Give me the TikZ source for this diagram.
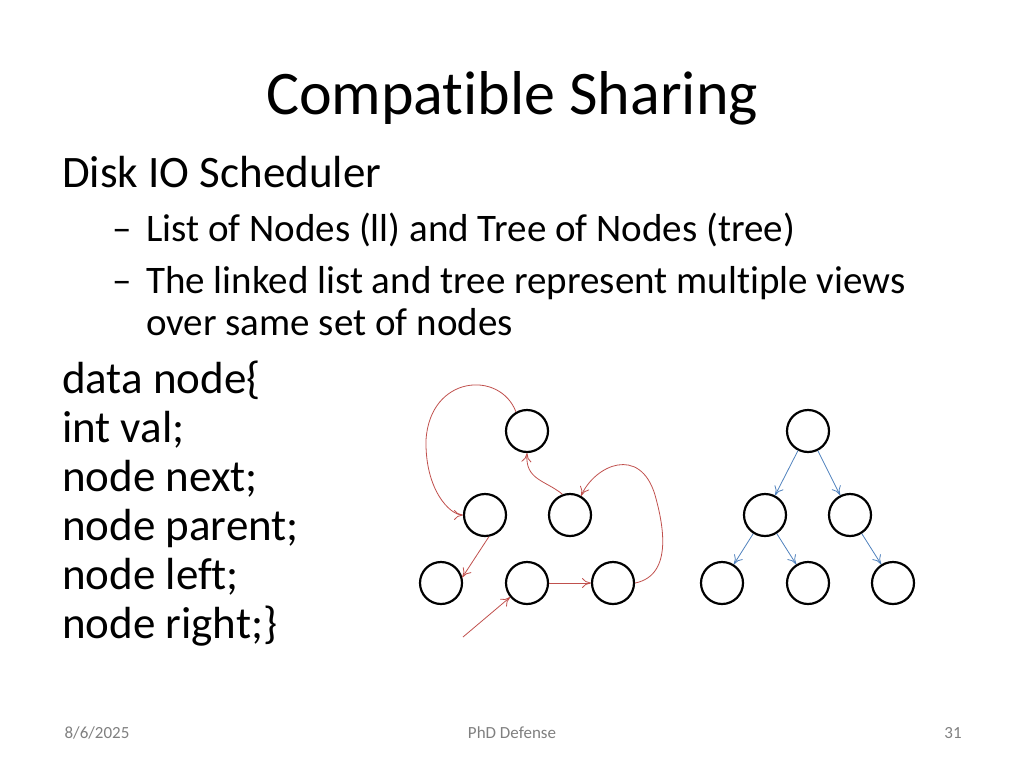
\documentclass[tikz,border=0pt]{standalone}
\usepackage{fontspec}
\setmainfont[Ligatures={NoCommon,NoRare}]{Carlito}
\usetikzlibrary{arrows.meta}
\definecolor{rd}{RGB}{192,80,77}
\definecolor{bl}{RGB}{79,129,189}
\begin{document}
\begin{tikzpicture}[x=1pt,y=-1pt,
  nd/.style={circle,draw,line width=2.2pt,minimum size=42pt,inner sep=0pt},
  ra/.style={draw=rd,line width=0.8pt,-{To[length=9pt,width=10pt]}},
  ba/.style={draw=bl,line width=0.8pt,-{To[length=9pt,width=10pt]}},
  txt/.style={anchor=base west,inner sep=0pt}]
\useasboundingbox (0,0) rectangle (1024,768);
\node[inner sep=0pt] (title) at (512,98) {\fontsize{62}{74}\selectfont Compatible Sharing};
\node[txt] (h) at (62,187) {\fontsize{45}{54}\selectfont Disk IO Scheduler};
\node[txt] (m1) at (112,241) {\fontsize{39}{46}\selectfont –};
\node[txt] (b1) at (146,241) {\fontsize{39}{46}\selectfont List of Nodes (ll) and Tree of Nodes (tree)};
\node[txt] (m2) at (112,293) {\fontsize{39}{46}\selectfont –};
\node[txt] (b2) at (146,293) {\fontsize{39}{46}\selectfont The linked list and tree represent multiple views};
\node[txt] (b3) at (146,335) {\fontsize{39}{46}\selectfont over same set of nodes};
\foreach \t [count=\i] in {data node\{,int val;,node next;,node parent;,node left;,node right;\}}
  \node[txt] (c\i) at (62,{344+49*\i}) {\fontsize{45}{54}\selectfont \t};
\node (d) at (97,733) {\fontsize{17}{20}\selectfont\color{gray}8/6/2025};
\node (f) at (512,733) {\fontsize{17}{20}\selectfont\color{gray}PhD Defense};
\node (p) at (953,733) {\fontsize{17}{20}\selectfont\color{gray}31};
% left
\node[nd] (a) at (527,431) {};
\node[nd] (b) at (485,515) {};
\node[nd] (c) at (570,515) {};
\node[nd] (d1) at (441,583) {};
\node[nd] (e) at (527,583) {};
\node[nd] (g) at (613,583) {};
\coordinate (s) at (463,637);
\draw[ra] (a.120) .. controls (500,370) and (430,375) .. (426,440) .. controls (425,490) and (450,515) .. (b.west);
\draw[ra] (c.110) .. controls (545,480) and (525,480) .. (a.south);
\draw[ra] (g.east) .. controls (675,575) and (662,520) .. (655,495) .. controls (640,445) and (595,465) .. (c.60);
\draw[ra] (b.-80) -- (d1.15);
\draw[ra] (e.east) -- (g.west);
\draw[ra] (s) -- (e.-140);
% right
\node[nd] (A) at (808,431) {};
\node[nd] (B) at (765,515) {};
\node[nd] (C) at (850,515) {};
\node[nd] (D) at (722,583) {};
\node[nd] (E) at (808,583) {};
\node[nd] (G) at (893,583) {};
\draw[ba] (A) -- (B);
\draw[ba] (A) -- (C);
\draw[ba] (B) -- (D);
\draw[ba] (B) -- (E);
\draw[ba] (C) -- (G);
\end{tikzpicture}
\end{document}
